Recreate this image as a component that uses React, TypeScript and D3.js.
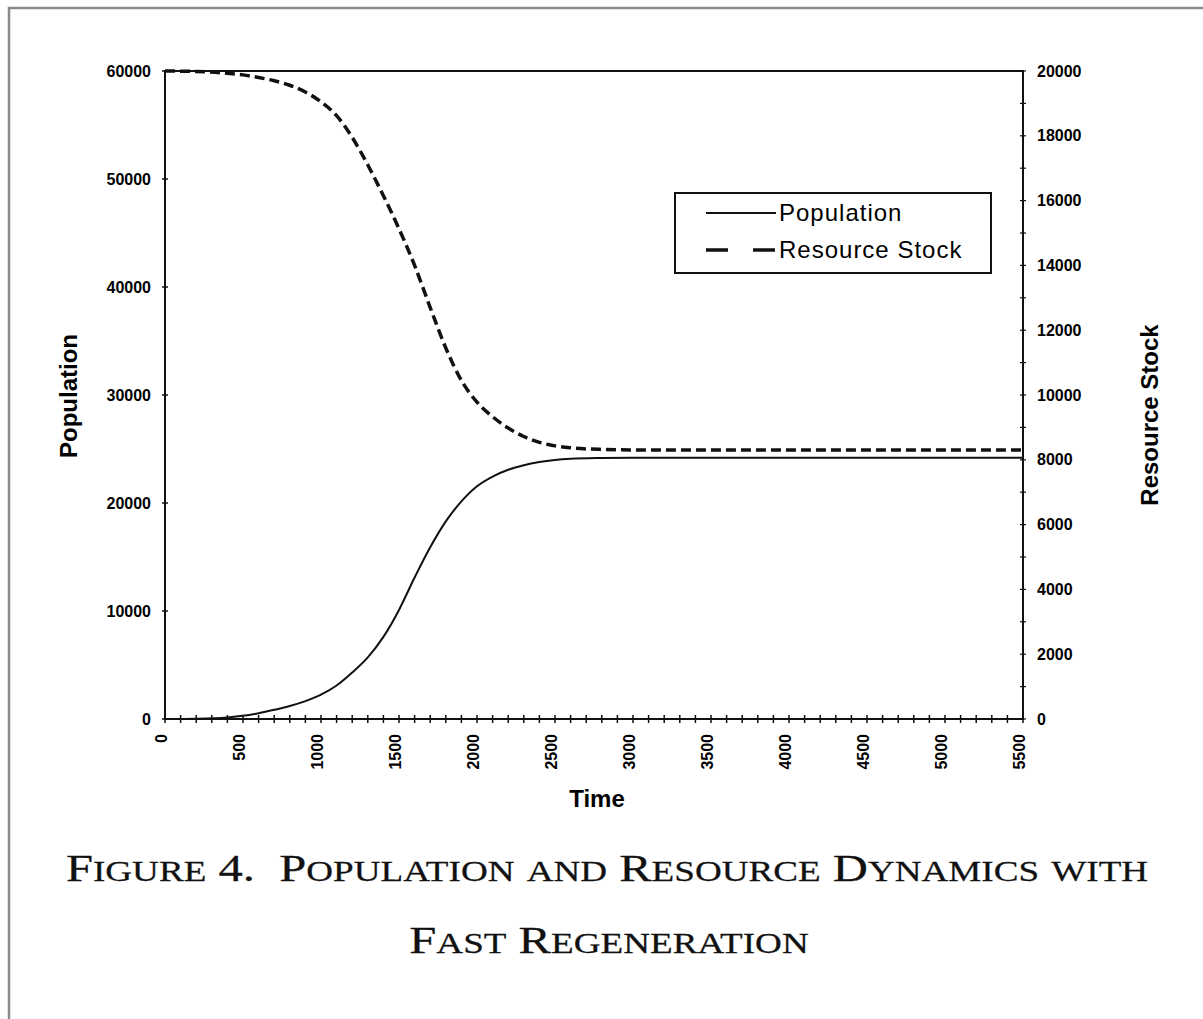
import { useEffect, useRef } from 'react';
import * as d3 from 'd3';

// values
const times = [0, 200, 400, 500, 600, 700, 800, 900, 1000, 1100, 1200, 1300, 1400, 1500, 1600, 1700, 1800, 1900, 2000, 2100, 2200, 2300, 2400, 2500, 2600, 2800, 3000, 3500, 4000, 4500, 5000, 5500];
const population = [0, 30, 150, 300, 540, 850, 1200, 1650, 2250, 3100, 4300, 5700, 7600, 10100, 13100, 15900, 18300, 20150, 21550, 22450, 23080, 23500, 23790, 23980, 24090, 24170, 24200, 24200, 24200, 24200, 24200, 24200];
const resource = [20000, 19985, 19930, 19880, 19800, 19700, 19560, 19350, 19050, 18620, 17950, 17100, 16150, 15130, 14000, 12700, 11450, 10450, 9780, 9330, 8980, 8720, 8540, 8430, 8370, 8320, 8305, 8300, 8300, 8300, 8300, 8300];

const xLabelTicks = d3.range(0, 5501, 500);
const xMinorTicks = d3.range(0, 5501, 100);
const leftTicks = d3.range(0, 60001, 10000);
const rightTicks = d3.range(0, 20001, 2000);
const rightMinor = d3.range(0, 20001, 1000);

const legendItems = [
  { label: 'Population', dash: null, width: 2 },
  { label: 'Resource Stock', dash: '22 25', width: 3.5 },
];

const captionLines = ['Figure 4.  Population and Resource Dynamics with', 'Fast Regeneration'];

const App = () => {
  const svgRef = useRef<SVGSVGElement>(null);

  useEffect(() => {
    if (!svgRef.current) return;
    const W = 1203, H = 1019;
    const plot = { left: 165, top: 71, right: 1023, bottom: 719 };
    const sans = '"Liberation Sans", Arial, sans-serif';
    const serif = '"Liberation Serif", "Times New Roman", serif';

    const svg = d3.select(svgRef.current);
    svg.selectAll('*').remove();
    svg.attr('width', W).attr('height', H);

    svg.append('rect').attr('width', W).attr('height', H).attr('fill', '#fff');
    // outer frame of the scanned page
    svg.append('rect')
      .attr('x', 9).attr('y', 8).attr('width', W + 20).attr('height', H + 20)
      .attr('fill', 'none').attr('stroke', '#8a8a8a').attr('stroke-width', 2.5);

    const x = d3.scaleLinear().domain([0, 5500]).range([plot.left, plot.right]);
    const yL = d3.scaleLinear().domain([0, 60000]).range([plot.bottom, plot.top]);
    const yR = d3.scaleLinear().domain([0, 20000]).range([plot.bottom, plot.top]);

    svg.append('rect')
      .attr('x', plot.left).attr('y', plot.top)
      .attr('width', plot.right - plot.left).attr('height', plot.bottom - plot.top)
      .attr('fill', 'none').attr('stroke', '#111').attr('stroke-width', 2);

    // x ticks (cross the axis)
    svg.append('g').selectAll('line').data(xMinorTicks).enter().append('line')
      .attr('x1', d => x(d)).attr('x2', d => x(d))
      .attr('y1', plot.bottom - 4).attr('y2', plot.bottom + 4)
      .attr('stroke', '#111').attr('stroke-width', 1.5);

    svg.append('g').selectAll('text').data(xLabelTicks).enter().append('text')
      .attr('transform', d => `translate(${x(d) - 4},${plot.bottom + 15}) rotate(-90)`)
      .attr('text-anchor', 'end').attr('dy', '0.35em')
      .style('font-family', sans).style('font-size', '16px').style('font-weight', 'bold')
      .text(d => d);

    // left axis
    svg.append('g').selectAll('line').data(leftTicks).enter().append('line')
      .attr('x1', plot.left - 3).attr('x2', plot.left + 3)
      .attr('y1', d => yL(d)).attr('y2', d => yL(d))
      .attr('stroke', '#111').attr('stroke-width', 1.5);
    svg.append('g').selectAll('text').data(leftTicks).enter().append('text')
      .attr('x', plot.left - 14).attr('y', d => yL(d)).attr('dy', '0.35em')
      .attr('text-anchor', 'end')
      .style('font-family', sans).style('font-size', '16px').style('font-weight', 'bold')
      .text(d => d);

    // right axis
    svg.append('g').selectAll('line').data(rightMinor).enter().append('line')
      .attr('x1', plot.right - 3).attr('x2', plot.right + 3)
      .attr('y1', d => yR(d)).attr('y2', d => yR(d))
      .attr('stroke', '#111').attr('stroke-width', 1.2);
    svg.append('g').selectAll('text').data(rightTicks).enter().append('text')
      .attr('x', plot.right + 14).attr('y', d => yR(d)).attr('dy', '0.35em')
      .style('font-family', sans).style('font-size', '16px').style('font-weight', 'bold')
      .text(d => d);

    // axis titles
    svg.append('text')
      .attr('transform', 'translate(77,396) rotate(-90)')
      .attr('text-anchor', 'middle')
      .style('font-family', sans).style('font-size', '24px').style('font-weight', 'bold')
      .text('Population');
    svg.append('text')
      .attr('transform', 'translate(1158,415) rotate(-90)')
      .attr('text-anchor', 'middle')
      .style('font-family', sans).style('font-size', '24px').style('font-weight', 'bold')
      .text('Resource Stock');
    svg.append('text')
      .attr('x', 597).attr('y', 807)
      .attr('text-anchor', 'middle')
      .style('font-family', sans).style('font-size', '24px').style('font-weight', 'bold')
      .text('Time');

    // curves
    const popLine = d3.line<number>()
      .x((_, i) => x(times[i]))
      .y(d => yL(d))
      .curve(d3.curveMonotoneX);
    const resLine = d3.line<number>()
      .x((_, i) => x(times[i]))
      .y(d => yR(d))
      .curve(d3.curveMonotoneX);

    svg.append('path').datum(population)
      .attr('d', popLine).attr('fill', 'none')
      .attr('stroke', '#111').attr('stroke-width', 2);
    svg.append('path').datum(resource)
      .attr('d', resLine).attr('fill', 'none')
      .attr('stroke', '#111').attr('stroke-width', 3.5)
      .attr('stroke-dasharray', '10 5');

    // legend
    const lg = svg.append('g');
    lg.append('rect')
      .attr('x', 675).attr('y', 193).attr('width', 316).attr('height', 80)
      .attr('fill', '#fff').attr('stroke', '#111').attr('stroke-width', 2);
    legendItems.forEach((item, i) => {
      const cy = 213 + i * 37;
      lg.append('line')
        .attr('x1', 706).attr('x2', 776).attr('y1', cy).attr('y2', cy)
        .attr('stroke', '#111').attr('stroke-width', item.width)
        .attr('stroke-dasharray', item.dash);
      lg.append('text')
        .attr('x', 779).attr('y', cy).attr('dy', '0.35em')
        .style('font-family', sans).style('font-size', '24px').style('letter-spacing', '1px')
        .text(item.label);
    });

    // caption in small caps, stretched wide like the scan
    const smallCaps = (str: string, cx: number, cy: number) => {
      const t = svg.append('text')
        .attr('transform', `translate(${cx},${cy}) scale(1.28,1)`)
        .attr('text-anchor', 'middle')
        .style('font-family', serif).style('white-space', 'pre')
        .style('fill', '#111').style('stroke', '#111').style('stroke-width', 0.25);
      const runs: { s: string; big: boolean }[] = [];
      for (const ch of str) {
        const big = !(ch >= 'a' && ch <= 'z');
        const last = runs[runs.length - 1];
        if (last && last.big === big) last.s += ch;
        else runs.push({ s: ch, big });
      }
      runs.forEach(r => {
        t.append('tspan')
          .style('font-size', r.big ? '38px' : '29px')
          .text(r.big ? r.s : r.s.toUpperCase());
      });
    };
    smallCaps(captionLines[0], 607, 881);
    smallCaps(captionLines[1], 609, 953);
  }, []);

  return (
    <div style={{ position: 'absolute', left: 0, top: 0 }}>
      <svg ref={svgRef} style={{ display: 'block' }}></svg>
    </div>
  );
};

export default App;
